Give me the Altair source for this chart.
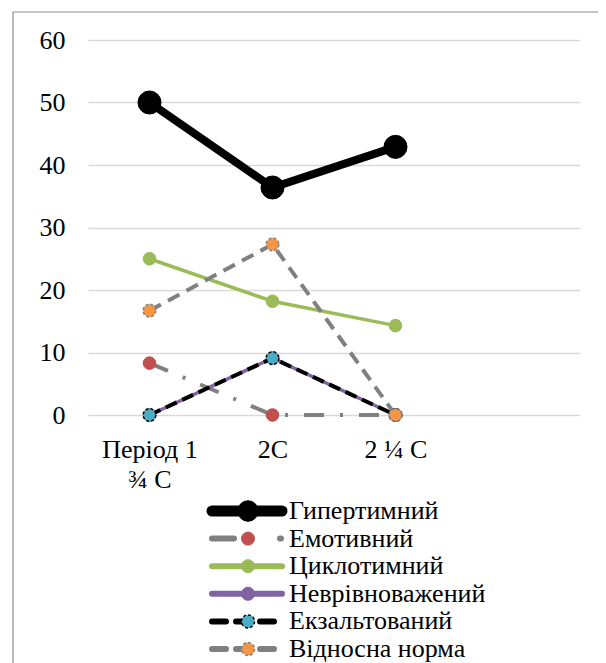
import altair as alt
import pandas as pd

# ---- data ----
categories = ["Період 1 ¾ С", "2С", "2 ¼ С"]
blank_slot = " "
series_names = ["Гипертимний", "Емотивний", "Циклотимний",
                "Неврівноважений", "Екзальтований", "Відносна норма"]
hypertymnyi = [50.0, 36.4, 42.9]
emotyvnyi = [8.3, 0.0, 0.0]
tsyklotymnyi = [25.0, 18.2, 14.3]
nevrivnovazhenyi = [0.0, 9.1, 0.0]
ekzaltovanyi = [0.0, 9.1, 0.0]
vidnosna_norma = [16.7, 27.3, 0.0]
y_ticks = [0, 10, 20, 30, 40, 50, 60]

values_by_series = [hypertymnyi, emotyvnyi, tsyklotymnyi,
                    nevrivnovazhenyi, ekzaltovanyi, vidnosna_norma]

rows = []
for name, vals in zip(series_names, values_by_series):
    for cat, v in zip(categories, vals):
        rows.append({"series": name, "period": cat, "value": v})
df = pd.DataFrame(rows)
legend_df = pd.DataFrame({"series": series_names})
frame_df = pd.DataFrame({"frame": [0]})

# ---- styles ----
FONT = "Liberation Serif"
FS = 26
styles = [
    dict(line="#000000", width=8, lwidth=11, dash=None, ldash=None, fill="#000000", stroke="#000000", sw=1, mdash=None, size=530, lsize=420),
    dict(line="#808080", width=4, lwidth=6, dash=[20, 16, 3, 16], ldash=[22, 46, 1, 10], fill="#C0504D", stroke="#C0504D", sw=1, mdash=None, size=160, lsize=170),
    dict(line="#9BBB59", width=3.5, lwidth=6, dash=None, ldash=None, fill="#9BBB59", stroke="#9BBB59", sw=1, mdash=None, size=160, lsize=170),
    dict(line="#8064A2", width=3.5, lwidth=6, dash=None, ldash=None, fill="#8064A2", stroke="#8064A2", sw=1, mdash=None, size=160, lsize=170),
    dict(line="#000000", width=4, lwidth=6, dash=[12, 6], ldash=[14, 10], fill="#4BACC6", stroke="#000000", sw=1.5, mdash=[3, 2], size=160, lsize=170),
    dict(line="#808080", width=4, lwidth=6, dash=[13, 8], ldash=[14, 10], fill="#F79646", stroke="#808080", sw=1.5, mdash=[3, 2], size=160, lsize=170),
]

label_expr = ("datum.value == 'Період 1 ¾ С' ? ['Період 1', '¾ С'] : datum.label")

x_enc = alt.X(
    "period:N",
    sort=categories,
    scale=alt.Scale(type="point", domain=categories + [blank_slot], padding=0.5),
    axis=alt.Axis(title=None, ticks=False, domain=False, grid=False, labelAngle=0,
                  labelFont=FONT, labelFontSize=FS, labelColor="#000000",
                  labelPadding=21, labelLineHeight=30, labelExpr=label_expr),
)
y_enc = alt.Y(
    "value:Q",
    scale=alt.Scale(domain=[0, 60], nice=False),
    axis=alt.Axis(title=None, values=y_ticks, ticks=False, tickSize=0, domain=False,
                  grid=True, gridColor="#d9d9d9", gridWidth=1.5,
                  labelFont=FONT, labelFontSize=FS, labelColor="#000000", labelPadding=23),
)

main_layers = []
for name, st in zip(series_names, styles):
    sub = alt.Chart(df).transform_filter(alt.datum.series == name)
    line_kw = dict(color=st["line"], strokeWidth=st["width"], strokeCap="butt")
    if st["dash"]:
        line_kw["strokeDash"] = st["dash"]
    pt_kw = dict(filled=True, fill=st["fill"], stroke=st["stroke"], strokeWidth=st["sw"],
                 size=st["size"], shape="circle", opacity=1)
    if st["mdash"]:
        pt_kw["strokeDash"] = st["mdash"]
    main_layers.append(sub.mark_line(**line_kw).encode(x=x_enc, y=y_enc))
    main_layers.append(sub.mark_point(**pt_kw).encode(x=x_enc, y=y_enc))
main = alt.layer(*main_layers)

legend_y = alt.Y("series:N", sort=series_names,
                 scale=alt.Scale(type="point", domain=series_names, range=[471, 609], padding=0),
                 axis=None)
legend_layers = []
for name, st in zip(series_names, styles):
    sub = alt.Chart(legend_df).transform_filter(alt.datum.series == name)
    rule_kw = dict(color=st["line"], strokeWidth=st["lwidth"], strokeCap="round")
    if st["ldash"]:
        rule_kw["strokeDash"] = st["ldash"]
    pt_kw = dict(filled=True, fill=st["fill"], stroke=st["stroke"], strokeWidth=st["sw"],
                 size=st["lsize"], shape="circle", opacity=1)
    if st["mdash"]:
        pt_kw["strokeDash"] = st["mdash"]
    legend_layers.append(sub.mark_rule(**rule_kw).encode(
        x=alt.value(124), x2=alt.value(194), y=legend_y))
    legend_layers.append(sub.mark_point(**pt_kw).encode(x=alt.value(160), y=legend_y))
legend_layers.append(
    alt.Chart(legend_df).mark_text(align="left", baseline="middle", font=FONT,
                                   fontSize=FS, color="#000000").encode(
        x=alt.value(201), y=legend_y, text="series:N")
)
legend = alt.layer(*legend_layers)

frame = alt.Chart(frame_df).mark_rect(fill=None, stroke="#8c8c8c", strokeWidth=1.2).encode(
    x=alt.value(-75), x2=alt.value(620), y=alt.value(-28), y2=alt.value(700)
)

chart = alt.layer(frame, main, legend).resolve_scale(y="independent").properties(
    width=492, height=375,
    padding={"left": 80, "top": 32, "right": 18, "bottom": 248},
    autosize=alt.AutoSizeParams(type="none"),
    background="#ffffff",
).configure_view(stroke=None)

chart.save("out.html", embed_options={"renderer": "svg", "actions": False})
